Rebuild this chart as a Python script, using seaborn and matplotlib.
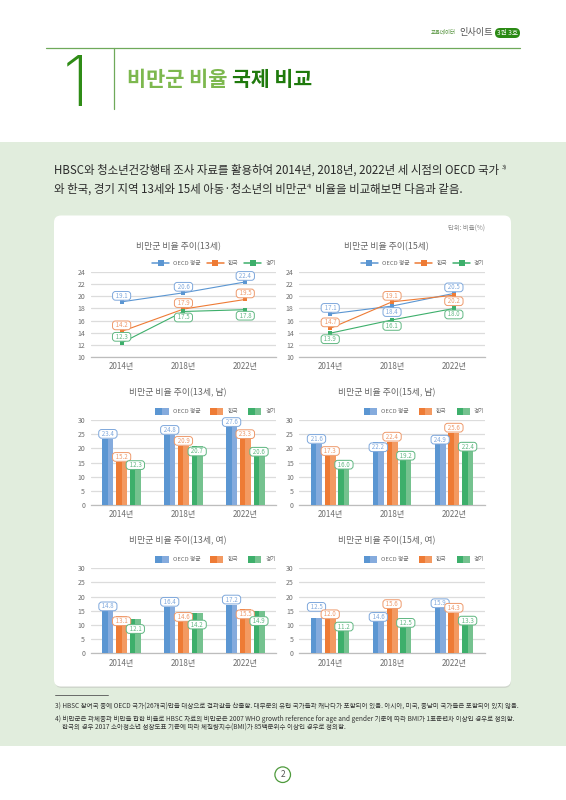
import matplotlib
matplotlib.use("Agg")
import matplotlib.pyplot as plt
from matplotlib.patches import Rectangle, FancyBboxPatch, Circle, Patch
from matplotlib.lines import Line2D
from matplotlib.legend_handler import HandlerTuple
import pandas as pd
import seaborn as sns

years = ["2014년", "2018년", "2022년"]
groups = ["OECD 평균", "한국", "경기"]

line13 = [[19.1, 20.6, 22.4], [14.2, 17.9, 19.5], [12.3, 17.5, 17.8]]
line15 = [[17.1, 18.4, 20.5], [14.7, 19.1, 20.2], [13.9, 16.1, 18.0]]
bar13m = [[23.4, 24.8, 27.6], [15.2, 20.9, 23.3], [12.3, 20.7, 20.6]]
bar15m = [[21.6, 22.2, 24.9], [17.3, 22.4, 25.6], [16.0, 19.2, 22.4]]
bar13f = [[14.8, 16.4, 17.2], [13.1, 14.6, 15.5], [12.1, 14.2, 14.9]]
bar15f = [[12.5, 14.6, 15.9], [12.0, 15.6, 14.3], [11.2, 12.5, 13.3]]

# label placement: pixels above (+) or below (-) the mark
off_l13 = [[6, 6, 6], [6, 6, 6], [6, -6, -6]]
off_l15 = [[6, -6, 6], [6, 6, -6], [-6, -6, -6]]
off_b13m = [[5, 5, 5], [5, 5, 5], [5, -5, -5]]
off_b15m = [[5, -5, -5], [5, 5, 5], [-5, -5, -5]]
off_b13f = [[5, 5, 5], [-5, -5, -5], [-10, -11.5, -10]]
off_b15f = [[11, -5, 5], [5, 5, 5], [-5, -5, -5]]

DARK = ["#5B96D2", "#EE7B35", "#3DAF6B"]
LIGHT = ["#85ABDD", "#F39A62", "#75C28F"]
EDGE = ["#7FA8DC", "#EE9A6C", "#62B883"]
GRID = "#DCDCDC"
AXC = "#BDBDBD"
TXT = "#6E6E6E"
FONT = ["Noto Sans CJK KR", "DejaVu Sans"]

sns.set_theme(style="white")
plt.rcParams["font.family"] = FONT
plt.rcParams["axes.unicode_minus"] = False

W, H = 566, 800
fig = plt.figure(figsize=(W / 100, H / 100), dpi=100, facecolor="white")
page = fig.add_axes([0, 0, 1, 1], zorder=0)
page.set_xlim(0, W)
page.set_ylim(H, 0)
page.axis("off")

# page furniture
page.add_patch(Rectangle((0, 142), W, 604, fc="#E1EDDD", ec="none"))
page.add_patch(FancyBboxPatch((55, 217), 456, 471, boxstyle="round,pad=0,rounding_size=7",
                              fc="#CFD6CC", ec="none"))
page.add_patch(FancyBboxPatch((54, 215.5), 457, 471, boxstyle="round,pad=0,rounding_size=7",
                              fc="white", ec="none"))
page.plot([46, 520], [48.4, 48.4], color="#6FA95A", lw=0.9)
page.plot([113.5, 113.5], [48.4, 109], color="#6FA95A", lw=0.9)
page.text(76, 88, "1", family="Inter", weight="light", fontsize=50, color="#2F8C16",
          ha="center", va="center")
page.text(127, 79, "비만군 비율", fontsize=15, weight=900, color="#7DB84E", va="center")
page.text(232.5, 79, "국제 비교", fontsize=14.8, weight=900, color="#1F7A0C", va="center")
page.text(431, 32, "교육데이터", fontsize=3.9, color="#4E8F35", va="center")
page.text(459, 32, "인사이트", fontsize=6.6, color="#555555", va="center")
page.add_patch(FancyBboxPatch((495, 28), 25, 10, boxstyle="round,pad=0,rounding_size=5",
                              fc="#2B8A14", ec="none"))
page.text(507.5, 32.8, "3권 3호", fontsize=4.8, color="white", ha="center", va="center")

page.text(54, 170, "HBSC와 청소년건강행태 조사 자료를 활용하여 2014년, 2018년, 2022년 세 시점의 OECD 국가",
          fontsize=8.25, color="#2A2A2A", va="center")
page.text(501.5, 167, "3)", fontsize=4.3, color="#2A2A2A", va="center")
page.text(54, 189, "와 한국, 경기 지역 13세와 15세 아동·청소년의 비만군", fontsize=8.25, color="#2A2A2A", va="center")
page.text(307, 186, "4)", fontsize=4.3, color="#2A2A2A", va="center")
page.text(315, 189, "비율을 비교해보면 다음과 같음.", fontsize=8.25, color="#2A2A2A", va="center")
page.text(485, 229, "단위: 비율(%)", fontsize=4.6, color="#8A8A8A", ha="right", va="center")

page.plot([55, 108], [695, 695], color="#555555", lw=0.6)
notes = [
    (55, 706.5, "3) HBSC 참여국 중에 OECD 국가(26개국)만을 대상으로 결과값을 산출함. 대부분의 유럽 국가들과 캐나다가 포함되어 있음. 아시아, 미국, 중남미 국가들은 포함되어 있지 않음."),
    (55, 719, "4) 비만군은 과체중과 비만을 합한 비율로 HBSC 자료의 비만군은 2007 WHO growth reference for age and gender 기준에 따라 BMI가 1표준편차 이상인 경우로 정의함."),
    (62, 728, "한국의 경우 2017 소아청소년 성장도표 기준에 따라 체질량지수(BMI)가 85백분위수 이상인 경우로 정의함."),
]
for x, y, s in notes:
    page.text(x, y, s, fontsize=4.66, color="#333333", va="center")
page.add_patch(Circle((282.7, 774.7), 7.8, fc="white", ec="#4E9A3C", lw=0.9))
page.text(282.7, 774.7, "2", fontsize=6, color="#555555", ha="center", va="center")


def long_frame(rows):
    return pd.DataFrame([
        {"year": y, "group": g, "value": rows[i][j]}
        for i, g in enumerate(groups) for j, y in enumerate(years)
    ])


def make_axes(x0, ytop, ybot):
    ax = fig.add_axes([x0 / W, 1 - ybot / H, 185.5 / W, (ybot - ytop) / H], zorder=2)
    ax.patch.set_alpha(0)
    return ax


def style(ax, lo, hi, step):
    ax.set_xlim(-0.5, 2.5)
    ax.set_ylim(lo, hi)
    ax.set_yticks(range(lo, hi + 1, step))
    ax.set_xticks(range(3))
    ax.set_xticklabels(years)
    ax.set_xlabel("")
    ax.set_ylabel("")
    ax.grid(axis="y", color=GRID, lw=0.9)
    ax.grid(axis="x", visible=False)
    ax.set_axisbelow(True)
    for s in ["top", "left", "right"]:
        ax.spines[s].set_visible(False)
    ax.spines["bottom"].set_color(AXC)
    ax.spines["bottom"].set_linewidth(0.9)
    ax.tick_params(axis="x", length=0, labelsize=5.8, labelcolor=TXT, pad=4)
    ax.tick_params(axis="y", length=0, labelsize=5, labelcolor=TXT, pad=4)
    ax.set_xticks([-0.5, 0.5, 1.5, 2.5], minor=True)
    ax.tick_params(axis="x", which="minor", direction="in", length=3, width=0.7, color=AXC)


def tag(ax, x, y, v, off, i):
    ax.annotate(f"  {v:.1f}  ", xy=(x, y), xytext=(0, off), textcoords="offset pixels",
                ha="center", va="center", fontsize=4.4, color=EDGE[i], zorder=6,
                bbox=dict(boxstyle="round,pad=0.06,rounding_size=0.5", fc="white", ec=EDGE[i], lw=0.7))


def line_panel(x0, title, rows, offs):
    ax = make_axes(x0, 272.3, 356.7)
    sns.lineplot(data=long_frame(rows), x="year", y="value", hue="group", hue_order=groups,
                 palette=DARK, marker="s", markersize=2.8, markeredgewidth=0, linewidth=0.8,
                 legend=False, sort=False, ax=ax, zorder=4)
    style(ax, 10, 24, 2)
    page.text(x0 + 87.5, 247, title, fontsize=6.4, color="#666666", ha="center", va="center")
    for i in range(3):
        for j in range(3):
            tag(ax, j, rows[i][j], rows[i][j], offs[i][j], i)
    handles = [Line2D([], [], color=DARK[i], lw=1.1, marker="s", markersize=4.2, markeredgewidth=0)
               for i in range(3)]
    ax.legend(handles, groups, loc="lower right", bbox_to_anchor=(1.0, 1.075), ncol=3, frameon=False,
              fontsize=4.2, labelcolor=TXT, handlelength=2.9, handletextpad=0.7,
              columnspacing=1.0, borderaxespad=0, borderpad=0)


def bar_panel(x0, ytop, ybot, title_y, title, rows, offs):
    ax = make_axes(x0, ytop, ybot)
    sns.barplot(data=long_frame(rows), x="year", y="value", hue="group", hue_order=groups,
                palette=DARK, saturation=1, width=0.666, gap=0.2, linewidth=0, legend=False,
                ax=ax, zorder=3)
    style(ax, 0, 30, 5)
    page.text(x0 + 87.5, title_y, title, fontsize=6.4, color="#666666", ha="center", va="center")
    for i, cont in enumerate(ax.containers):
        for j, p in enumerate(cont.patches):
            ax.add_patch(Rectangle((p.get_x() + p.get_width() / 2, 0), p.get_width() / 2, p.get_height(),
                                   fc=LIGHT[i], ec="none", lw=0, zorder=3.5))
            tag(ax, p.get_x() + p.get_width() / 2, p.get_height(), rows[i][j], offs[i][j], i)
    handles = [(Patch(fc=DARK[i], ec="none"), Patch(fc=LIGHT[i], ec="none")) for i in range(3)]
    ax.legend(handles, groups, handler_map={tuple: HandlerTuple(ndivide=2, pad=0)},
              loc="lower right", bbox_to_anchor=(1.0, 1.065), ncol=3, frameon=False,
              fontsize=4.2, labelcolor=TXT, handlelength=2.3, handleheight=1.4, handletextpad=0.7,
              columnspacing=1.67, borderaxespad=0, borderpad=0)


LEFT, RIGHT = 90.7, 299.3
line_panel(LEFT, "비만군 비율 추이(13세)", line13, off_l13)
line_panel(RIGHT, "비만군 비율 추이(15세)", line15, off_l15)
bar_panel(LEFT, 420.3, 504.7, 392.7, "비만군 비율 추이(13세, 남)", bar13m, off_b13m)
bar_panel(RIGHT, 420.3, 504.7, 392.7, "비만군 비율 추이(15세, 남)", bar15m, off_b15m)
bar_panel(LEFT, 568.3, 653.3, 540.3, "비만군 비율 추이(13세, 여)", bar13f, off_b13f)
bar_panel(RIGHT, 568.3, 653.3, 540.3, "비만군 비율 추이(15세, 여)", bar15f, off_b15f)

fig.savefig("out.png", dpi=100)
